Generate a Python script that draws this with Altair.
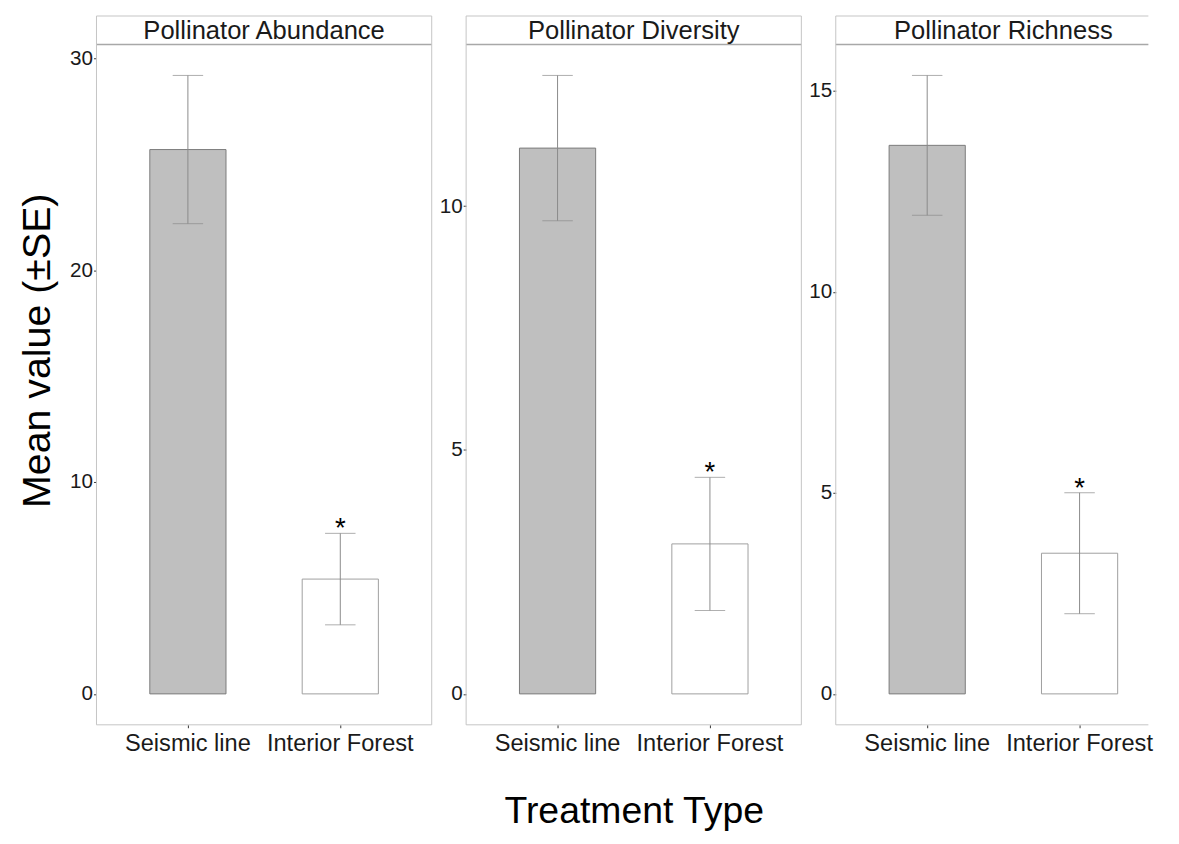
import altair as alt
import pandas as pd

metrics = ["Pollinator Abundance", "Pollinator Diversity", "Pollinator Richness"]
treatments = ["Seismic line", "Interior Forest"]
means = [[25.7, 5.42], [11.19, 3.075], [13.65, 3.50]]
ses = [[3.5, 2.16], [1.49, 1.365], [1.74, 1.505]]
stars = ["", "*"]
yticks = [[0, 10, 20, 30], [0, 5, 10], [0, 5, 10, 15]]

W = 341          # full panel width
WLAST = 318      # visible width of the last panel (cut by the page edge)
H = 692
FONT = "Liberation Sans"
BORDER = "#c4c4c4"


def panel(i):
    last = i == 2
    wv = WLAST if last else W
    m = means[i]
    s = ses[i]
    df = pd.DataFrame({
        "treatment": treatments,
        "mean": m,
        "lo": [a - b for a, b in zip(m, s)],
        "hi": [a + b for a, b in zip(m, s)],
        "star": stars,
    })
    top = max(df["hi"])
    pad = top * 0.05
    yscale = alt.Scale(domain=[-pad, top + pad], nice=False, zero=False)
    yaxis = alt.Axis(
        values=yticks[i], tickSize=3, tickColor="#333333", labelColor="#1a1a1a",
        labelFontSize=21, labelPadding=1, domain=False, grid=False,
        title="Mean value (±SE)" if i == 0 else None,
        titleFontSize=40, titleFontWeight="normal", titleColor="#000000",
        titlePadding=12,
        **({"titleY": 311} if i == 0 else {"minExtent": 30, "maxExtent": 30}),
    )
    xaxis = alt.Axis(
        labelAngle=0, labelFontSize=24, labelColor="#1a1a1a", tickSize=3,
        tickColor="#333333", domain=False, labelPadding=4,
        title="Treatment Type" if i == 1 else None,
        titleFontSize=38, titleFontWeight="normal", titleColor="#000000",
        titlePadding=38,
    )
    xs = alt.Scale(paddingInner=0.5, paddingOuter=0.35, range=[0, W])
    x = alt.X("treatment:N", sort=treatments, scale=xs, axis=xaxis)
    xp = alt.X("treatment:N", sort=treatments)
    base = alt.Chart(df)
    bars = base.mark_bar(strokeWidth=1).encode(
        x=x,
        y=alt.Y("mean:Q", scale=yscale, axis=yaxis),
        y2=alt.datum(0),
        fill=alt.Color("treatment:N", scale=alt.Scale(domain=treatments, range=["#bfbfbf", "#ffffff"]), legend=None),
        stroke=alt.Stroke("treatment:N", scale=alt.Scale(domain=treatments, range=["#7a7a7a", "#9e9e9e"]), legend=None),
    )
    err = base.mark_rule(color="#8a8a8a", strokeWidth=1).encode(x=xp, y="lo:Q", y2="hi:Q")
    cap_lo = base.mark_tick(color="#8a8a8a", size=31, thickness=1, orient="horizontal").encode(x=xp, y="lo:Q")
    cap_hi = base.mark_tick(color="#8a8a8a", size=31, thickness=1, orient="horizontal").encode(x=xp, y="hi:Q")
    star = base.mark_text(fontSize=28, baseline="alphabetic", dy=4, color="#000000").encode(
        x=xp, y="hi:Q", text="star:N")

    sdf = pd.DataFrame({"label": [metrics[i]]})
    sb = alt.Chart(sdf)
    strip_fill = sb.mark_rect(fill="#ffffff", strokeOpacity=0).encode(
        x=alt.value(0), x2=alt.value(wv), y=alt.value(-29), y2=alt.value(0))
    # borders drawn as rules (right edge omitted on the cut-off last panel)
    hlines = [(-29, BORDER, 1), (0, "#a8a8a8", 1.5), (H, BORDER, 1)]
    rules = [
        sb.mark_rule(color=c, strokeWidth=w).encode(x=alt.value(0), x2=alt.value(wv), y=alt.value(yv))
        for yv, c, w in hlines
    ]
    vx = [0] if last else [0, W]
    rules += [
        sb.mark_rule(color=BORDER, strokeWidth=1).encode(x=alt.value(xv), y=alt.value(-29), y2=alt.value(H))
        for xv in vx
    ]
    striptext = sb.mark_text(fontSize=26, color="#1a1a1a", baseline="middle").encode(
        x=alt.value(W / 2), y=alt.value(-14), text="label:N")
    return alt.layer(bars, err, cap_lo, cap_hi, star, strip_fill, *rules, striptext).properties(
        width=wv, height=H)


chart = alt.hconcat(panel(0), panel(1), panel(2), spacing=4).properties(
    padding={"left": 10, "top": 0, "right": 0, "bottom": 0}
).configure(font=FONT).configure_view(strokeOpacity=0)

chart.save("out.html", embed_options={"renderer": "svg", "actions": False})
